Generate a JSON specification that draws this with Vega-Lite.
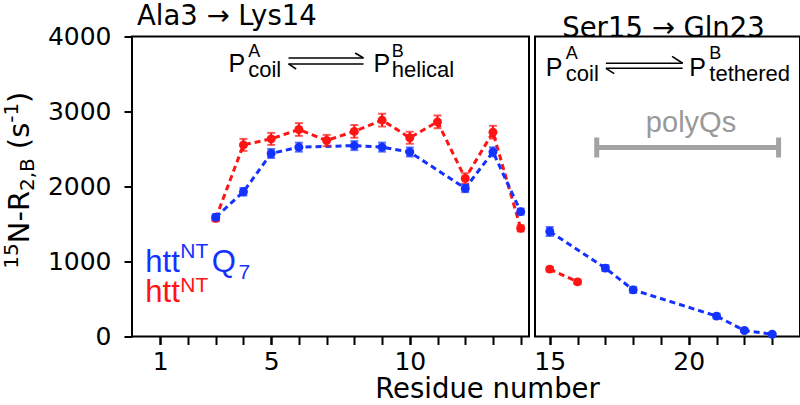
{
  "$schema": "https://vega.github.io/schema/vega-lite/v6.json",
  "padding": {"left": 1, "top": 1.5, "right": 0, "bottom": 0},
  "background": "white",
  "config": {
    "view": {"stroke": "black", "strokeWidth": 2},
    "font": "DejaVu Sans",
    "axis": {"domain": false, "grid": false, "tickColor": "black", "tickWidth": 2, "tickSize": 8, "labelFont": "DejaVu Sans", "labelFontSize": 25, "labelColor": "black", "titleFont": "DejaVu Sans", "titleFontWeight": "normal", "titleColor": "black", "labelFlush": false},
    "title": {"font": "DejaVu Sans", "fontSize": 27.5, "fontWeight": "normal", "color": "black"}
  },
  "datasets": {
    "r2": [
      {"series": "httNT", "residue": 3, "r2": 1575, "err": 40},
      {"series": "httNT", "residue": 4, "r2": 2555, "err": 80},
      {"series": "httNT", "residue": 5, "r2": 2635, "err": 80},
      {"series": "httNT", "residue": 6, "r2": 2760, "err": 85},
      {"series": "httNT", "residue": 7, "r2": 2613, "err": 75},
      {"series": "httNT", "residue": 8, "r2": 2735, "err": 85},
      {"series": "httNT", "residue": 9, "r2": 2885, "err": 85},
      {"series": "httNT", "residue": 10, "r2": 2650, "err": 80},
      {"series": "httNT", "residue": 11, "r2": 2862, "err": 85},
      {"series": "httNT", "residue": 12, "r2": 2108, "err": 70},
      {"series": "httNT", "residue": 13, "r2": 2724, "err": 85},
      {"series": "httNT", "residue": 14, "r2": 1442, "err": 40},
      {"series": "httNT", "residue": 15, "r2": 898, "err": 30},
      {"series": "httNT", "residue": 16, "r2": 728, "err": 30},
      {"series": "httNTQ7", "residue": 3, "r2": 1590, "err": 40},
      {"series": "httNTQ7", "residue": 4, "r2": 1930, "err": 50},
      {"series": "httNTQ7", "residue": 5, "r2": 2440, "err": 60},
      {"series": "httNTQ7", "residue": 6, "r2": 2525, "err": 60},
      {"series": "httNTQ7", "residue": 8, "r2": 2545, "err": 60},
      {"series": "httNTQ7", "residue": 9, "r2": 2525, "err": 60},
      {"series": "httNTQ7", "residue": 10, "r2": 2460, "err": 60},
      {"series": "httNTQ7", "residue": 12, "r2": 1975, "err": 50},
      {"series": "httNTQ7", "residue": 13, "r2": 2462, "err": 60},
      {"series": "httNTQ7", "residue": 14, "r2": 1665, "err": 40},
      {"series": "httNTQ7", "residue": 15, "r2": 1400, "err": 60},
      {"series": "httNTQ7", "residue": 17, "r2": 912, "err": 40},
      {"series": "httNTQ7", "residue": 18, "r2": 622, "err": 40},
      {"series": "httNTQ7", "residue": 21, "r2": 272, "err": 30},
      {"series": "httNTQ7", "residue": 22, "r2": 80, "err": 20},
      {"series": "httNTQ7", "residue": 23, "r2": 30, "err": 20}
    ]
  },
  "spacing": 6,
  "bounds": "flush",
  "hconcat": [
    {
      "width": 397,
      "height": 300,
      "title": {"text": "Ala3 → Lys14", "anchor": "start", "frame": "group", "dx": 5, "offset": -5.5},
      "resolve": {"axis": {"x": "independent"}},
      "layer": [
        {
          "data": {"name": "r2"},
          "transform": [{"filter": "datum.residue <= 14"}],
          "mark": {"type": "line", "strokeDash": [6, 4], "strokeWidth": 3},
          "encoding": {
            "x": {"field": "residue", "type": "quantitative", "scale": {"domain": [-0.02, 14.3], "nice": false, "zero": false},
              "axis": {"orient": "bottom", "values": [1, 5, 10], "title": "Residue number", "titleFontSize": 27.5, "titleX": 355, "titleY": 61, "titleBaseline": "alphabetic", "titleAlign": "center", "labelPadding": 5}},
            "y": {"field": "r2", "type": "quantitative", "scale": {"domain": [0, 4000], "nice": false, "zero": false},
              "axis": {"values": [0,500,1000,1500,2000,2500,3000,3500,4000], "format": "d", "labelExpr": "datum.value % 1000 == 0 ? datum.label : ''", "title": null, "labelPadding": 13}},
            "color": {"field": "series", "type": "nominal", "scale": {"domain": ["httNT", "httNTQ7"], "range": ["#ff1414", "#1432ff"]}, "legend": null}
          }
        },
        {
          "data": {"name": "r2"},
          "transform": [{"filter": "datum.residue <= 14"}],
          "mark": {"type": "errorbar", "ticks": true, "size": 8, "thickness": 2},
          "encoding": {
            "x": {"field": "residue", "type": "quantitative", "scale": {"domain": [-0.02, 14.3], "nice": false, "zero": false},
              "axis": {"orient": "bottom", "values": [1,2,3,4,5,6,7,8,9,10,11,12,13,14], "labels": false, "title": null}},
            "y": {"field": "r2", "type": "quantitative", "scale": {"domain": [0, 4000], "nice": false, "zero": false}},
            "yError": {"field": "err"},
            "color": {"field": "series", "type": "nominal", "scale": {"domain": ["httNT", "httNTQ7"], "range": ["#ff1414", "#1432ff"]}, "legend": null}
          }
        },
        {
          "data": {"name": "r2"},
          "transform": [{"filter": "datum.residue <= 14"}],
          "mark": {"type": "circle", "size": 80, "opacity": 1},
          "encoding": {
            "x": {"field": "residue", "type": "quantitative", "scale": {"domain": [-0.02, 14.3], "nice": false, "zero": false}, "axis": null},
            "y": {"field": "r2", "type": "quantitative", "scale": {"domain": [0, 4000], "nice": false, "zero": false}},
            "color": {"field": "series", "type": "nominal", "scale": {"domain": ["httNT", "httNTQ7"], "range": ["#ff1414", "#1432ff"]}, "legend": null}
          }
        },
        {
          "data": {"values": [{"t": "N-R", "x": -3.735, "y": 1243}, {"t": "(s", "x": -3.735, "y": 2498}, {"t": ")", "x": -3.735, "y": 3115}]},
          "mark": {"type": "text", "angle": 270, "align": "left", "baseline": "alphabetic", "font": "DejaVu Sans", "fontSize": 29, "color": "black"},
          "encoding": {
            "x": {"field": "x", "type": "quantitative", "scale": {"domain": [-0.02, 14.3], "nice": false, "zero": false}, "axis": null},
            "y": {"field": "y", "type": "quantitative", "scale": {"domain": [0, 4000], "nice": false, "zero": false}},
            "text": {"field": "t"}
          }
        },
        {
          "data": {"values": [{"t": "15", "x": -4.13, "y": 905}, {"t": "-1", "x": -4.13, "y": 2850}, {"t": "2,B", "x": -3.555, "y": 1939}]},
          "mark": {"type": "text", "angle": 270, "align": "left", "baseline": "alphabetic", "font": "DejaVu Sans", "fontSize": 20, "color": "black"},
          "encoding": {
            "x": {"field": "x", "type": "quantitative", "scale": {"domain": [-0.02, 14.3], "nice": false, "zero": false}, "axis": null},
            "y": {"field": "y", "type": "quantitative", "scale": {"domain": [0, 4000], "nice": false, "zero": false}},
            "text": {"field": "t"}
          }
        },
        {
          "data": {"values": [{"t": "P", "x": 3.46, "y": 3523}, {"t": "P", "x": 8.69, "y": 3523}]},
          "mark": {"type": "text", "align": "left", "baseline": "alphabetic", "font": "Liberation Sans", "fontSize": 25, "color": "black"},
          "encoding": {
            "x": {"field": "x", "type": "quantitative", "scale": {"domain": [-0.02, 14.3], "nice": false, "zero": false}, "axis": null},
            "y": {"field": "y", "type": "quantitative", "scale": {"domain": [0, 4000], "nice": false, "zero": false}},
            "text": {"field": "t"}
          }
        },
        {
          "data": {"values": [{"t": "A", "x": 4.17, "y": 3727}, {"t": "B", "x": 9.35, "y": 3727}]},
          "mark": {"type": "text", "align": "left", "baseline": "alphabetic", "font": "Liberation Sans", "fontSize": 18, "color": "black"},
          "encoding": {
            "x": {"field": "x", "type": "quantitative", "scale": {"domain": [-0.02, 14.3], "nice": false, "zero": false}, "axis": null},
            "y": {"field": "y", "type": "quantitative", "scale": {"domain": [0, 4000], "nice": false, "zero": false}},
            "text": {"field": "t"}
          }
        },
        {
          "data": {"values": [{"t": "coil", "x": 4.17, "y": 3455}, {"t": "helical", "x": 9.35, "y": 3455}]},
          "mark": {"type": "text", "align": "left", "baseline": "alphabetic", "font": "Liberation Sans", "fontSize": 22, "color": "black"},
          "encoding": {
            "x": {"field": "x", "type": "quantitative", "scale": {"domain": [-0.02, 14.3], "nice": false, "zero": false}, "axis": null},
            "y": {"field": "y", "type": "quantitative", "scale": {"domain": [0, 4000], "nice": false, "zero": false}},
            "text": {"field": "t"}
          }
        },
        {
          "data": {"values": [
            {"x": 5.625, "x2": 8.33, "y": 3713, "y2": 3713},
            {"x": 8.03, "x2": 8.33, "y": 3780, "y2": 3713},
            {"x": 5.625, "x2": 8.33, "y": 3634, "y2": 3634},
            {"x": 5.625, "x2": 5.9, "y": 3634, "y2": 3567}
          ]},
          "mark": {"type": "rule", "color": "black", "strokeWidth": 1.6},
          "encoding": {
            "x": {"field": "x", "type": "quantitative", "scale": {"domain": [-0.02, 14.3], "nice": false, "zero": false}, "axis": null},
            "x2": {"field": "x2"},
            "y": {"field": "y", "type": "quantitative", "scale": {"domain": [0, 4000], "nice": false, "zero": false}},
            "y2": {"field": "y2"}
          }
        },
        {
          "data": {"values": [{"t": "htt", "series": "httNTQ7", "x": 0.46, "y": 861}, {"t": "Q", "series": "httNTQ7", "x": 2.86, "y": 861}, {"t": "htt", "series": "httNT", "x": 0.46, "y": 462}]},
          "mark": {"type": "text", "align": "left", "baseline": "alphabetic", "font": "Liberation Sans", "fontSize": 31},
          "encoding": {
            "x": {"field": "x", "type": "quantitative", "scale": {"domain": [-0.02, 14.3], "nice": false, "zero": false}, "axis": null},
            "y": {"field": "y", "type": "quantitative", "scale": {"domain": [0, 4000], "nice": false, "zero": false}},
            "text": {"field": "t"},
            "color": {"field": "series", "type": "nominal", "scale": {"domain": ["httNT", "httNTQ7"], "range": ["#ff1414", "#1432ff"]}, "legend": null}
          }
        },
        {
          "data": {"values": [{"t": "NT", "series": "httNTQ7", "x": 1.72, "y": 1047}, {"t": "7", "series": "httNTQ7", "x": 3.82, "y": 772}, {"t": "NT", "series": "httNT", "x": 1.72, "y": 595}]},
          "mark": {"type": "text", "align": "left", "baseline": "alphabetic", "font": "Liberation Sans", "fontSize": 21},
          "encoding": {
            "x": {"field": "x", "type": "quantitative", "scale": {"domain": [-0.02, 14.3], "nice": false, "zero": false}, "axis": null},
            "y": {"field": "y", "type": "quantitative", "scale": {"domain": [0, 4000], "nice": false, "zero": false}},
            "text": {"field": "t"},
            "color": {"field": "series", "type": "nominal", "scale": {"domain": ["httNT", "httNTQ7"], "range": ["#ff1414", "#1432ff"]}, "legend": null}
          }
        }
      ]
    },
    {
      "width": 265,
      "height": 300,
      "title": {"text": "Ser15 → Gln23", "anchor": "middle", "frame": "group", "dx": -4, "offset": -5.5},
      "resolve": {"axis": {"x": "independent"}},
      "layer": [
        {
          "data": {"name": "r2"},
          "transform": [{"filter": "datum.residue >= 15"}],
          "mark": {"type": "line", "strokeDash": [6, 4], "strokeWidth": 3},
          "encoding": {
            "x": {"field": "residue", "type": "quantitative", "scale": {"domain": [14.47, 24.0], "nice": false, "zero": false},
              "axis": {"orient": "bottom", "values": [15, 20], "title": null, "labelPadding": 5}},
            "y": {"field": "r2", "type": "quantitative", "scale": {"domain": [0, 4000], "nice": false, "zero": false}, "axis": null},
            "color": {"field": "series", "type": "nominal", "scale": {"domain": ["httNT", "httNTQ7"], "range": ["#ff1414", "#1432ff"]}, "legend": null}
          }
        },
        {
          "data": {"name": "r2"},
          "transform": [{"filter": "datum.residue >= 15"}],
          "mark": {"type": "errorbar", "ticks": true, "size": 8, "thickness": 2},
          "encoding": {
            "x": {"field": "residue", "type": "quantitative", "scale": {"domain": [14.47, 24.0], "nice": false, "zero": false},
              "axis": {"orient": "bottom", "values": [15,16,17,18,19,20,21,22,23], "labels": false, "title": null}},
            "y": {"field": "r2", "type": "quantitative", "scale": {"domain": [0, 4000], "nice": false, "zero": false}},
            "yError": {"field": "err"},
            "color": {"field": "series", "type": "nominal", "scale": {"domain": ["httNT", "httNTQ7"], "range": ["#ff1414", "#1432ff"]}, "legend": null}
          }
        },
        {
          "data": {"name": "r2"},
          "transform": [{"filter": "datum.residue >= 15"}],
          "mark": {"type": "circle", "size": 80, "opacity": 1},
          "encoding": {
            "x": {"field": "residue", "type": "quantitative", "scale": {"domain": [14.47, 24.0], "nice": false, "zero": false}, "axis": null},
            "y": {"field": "r2", "type": "quantitative", "scale": {"domain": [0, 4000], "nice": false, "zero": false}},
            "color": {"field": "series", "type": "nominal", "scale": {"domain": ["httNT", "httNTQ7"], "range": ["#ff1414", "#1432ff"]}, "legend": null}
          }
        },
        {
          "data": {"values": [{"t": "P", "x": 14.86, "y": 3478}, {"t": "P", "x": 20.02, "y": 3478}]},
          "mark": {"type": "text", "align": "left", "baseline": "alphabetic", "font": "Liberation Sans", "fontSize": 25, "color": "black"},
          "encoding": {
            "x": {"field": "x", "type": "quantitative", "scale": {"domain": [14.47, 24.0], "nice": false, "zero": false}, "axis": null},
            "y": {"field": "y", "type": "quantitative", "scale": {"domain": [0, 4000], "nice": false, "zero": false}},
            "text": {"field": "t"}
          }
        },
        {
          "data": {"values": [{"t": "A", "x": 15.58, "y": 3700}, {"t": "B", "x": 20.74, "y": 3700}]},
          "mark": {"type": "text", "align": "left", "baseline": "alphabetic", "font": "Liberation Sans", "fontSize": 18, "color": "black"},
          "encoding": {
            "x": {"field": "x", "type": "quantitative", "scale": {"domain": [14.47, 24.0], "nice": false, "zero": false}, "axis": null},
            "y": {"field": "y", "type": "quantitative", "scale": {"domain": [0, 4000], "nice": false, "zero": false}},
            "text": {"field": "t"}
          }
        },
        {
          "data": {"values": [{"t": "coil", "x": 15.58, "y": 3411}, {"t": "tethered", "x": 20.74, "y": 3411}]},
          "mark": {"type": "text", "align": "left", "baseline": "alphabetic", "font": "Liberation Sans", "fontSize": 22, "color": "black"},
          "encoding": {
            "x": {"field": "x", "type": "quantitative", "scale": {"domain": [14.47, 24.0], "nice": false, "zero": false}, "axis": null},
            "y": {"field": "y", "type": "quantitative", "scale": {"domain": [0, 4000], "nice": false, "zero": false}},
            "text": {"field": "t"}
          }
        },
        {
          "data": {"values": [
            {"x": 17.02, "x2": 19.78, "y": 3643, "y2": 3643},
            {"x": 19.4, "x2": 19.78, "y": 3735, "y2": 3643},
            {"x": 17.02, "x2": 19.78, "y": 3576, "y2": 3576},
            {"x": 17.02, "x2": 17.32, "y": 3576, "y2": 3505}
          ]},
          "mark": {"type": "rule", "color": "black", "strokeWidth": 1.6},
          "encoding": {
            "x": {"field": "x", "type": "quantitative", "scale": {"domain": [14.47, 24.0], "nice": false, "zero": false}, "axis": null},
            "x2": {"field": "x2"},
            "y": {"field": "y", "type": "quantitative", "scale": {"domain": [0, 4000], "nice": false, "zero": false}},
            "y2": {"field": "y2"}
          }
        },
        {
          "data": {"values": [
            {"x": 16.69, "x2": 23.23, "y": 2520, "y2": 2520},
            {"x": 16.69, "x2": 16.69, "y": 2387, "y2": 2653},
            {"x": 23.23, "x2": 23.23, "y": 2387, "y2": 2653}
          ]},
          "mark": {"type": "rule", "color": "#a3a3a3", "strokeWidth": 5},
          "encoding": {
            "x": {"field": "x", "type": "quantitative", "scale": {"domain": [14.47, 24.0], "nice": false, "zero": false}, "axis": null},
            "x2": {"field": "x2"},
            "y": {"field": "y", "type": "quantitative", "scale": {"domain": [0, 4000], "nice": false, "zero": false}},
            "y2": {"field": "y2"}
          }
        },
        {
          "data": {"values": [{"t": "polyQs", "x": 20.08, "y": 2722}]},
          "mark": {"type": "text", "align": "center", "baseline": "alphabetic", "font": "Liberation Sans", "fontSize": 29, "color": "#999999"},
          "encoding": {
            "x": {"field": "x", "type": "quantitative", "scale": {"domain": [14.47, 24.0], "nice": false, "zero": false}, "axis": null},
            "y": {"field": "y", "type": "quantitative", "scale": {"domain": [0, 4000], "nice": false, "zero": false}},
            "text": {"field": "t"}
          }
        }
      ]
    }
  ]
}
